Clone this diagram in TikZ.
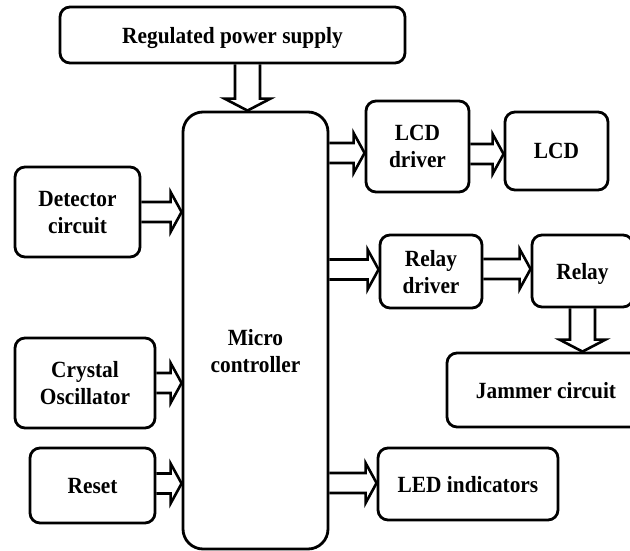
\documentclass[tikz,border=0pt]{standalone}
\usepackage{fontspec}
\setmainfont[FakeStretch=0.92]{Liberation Serif}
\usetikzlibrary{calc}
\begin{document}
\begin{tikzpicture}[x=1pt,y=-1pt,
  txt/.style={align=center, font=\fontsize{23.2}{27}\selectfont\bfseries, inner sep=0pt, text depth=0pt},
  box/.style={txt, draw, line width=2.8pt, rounded corners=10pt},
  harr/.style={draw, line width=2.6pt, line join=miter,
    to path={let \p1=(\tikztostart), \p2=(\tikztotarget) in
      (\x1,\y1+10pt) -- (\x2-11pt,\y1+10pt) -- (\x2-11pt,\y1+20pt) -- (\x2,\y1)
      -- (\x2-11pt,\y1-20pt) -- (\x2-11pt,\y1-10pt) -- (\x1,\y1-10pt)}},
  varr/.style={draw, line width=2.6pt, line join=miter,
    to path={let \p1=(\tikztostart), \p2=(\tikztotarget) in
      (\x1-12.5pt,\y1) -- (\x1-12.5pt,\y2+12pt) -- (\x1-23pt,\y2+12pt) -- (\x1,\y2)
      -- (\x1+23pt,\y2+12pt) -- (\x1+12.5pt,\y2+12pt) -- (\x1+12.5pt,\y1)}}
]
\useasboundingbox (0,0) rectangle (630,551);
\clip (0,0) rectangle (630,551);

\node[box, minimum width=345pt, minimum height=56pt] (rps) at (232.5,35) {Regulated power supply};
\node[box, rounded corners=20pt, minimum width=145pt, minimum height=437pt] (mc) at (255.5,330.5) {};
\node[txt] (mctext) at (255.5,351) {Micro\\controller};
\node[box, minimum width=103pt, minimum height=91pt] (lcdd) at (417.5,146.5) {LCD\\driver};
\node[box, minimum width=103pt, minimum height=78pt] (lcd) at (556.5,151) {LCD};
\node[box, minimum width=125pt, minimum height=90pt] (det) at (77.5,212) {Detector\\circuit};
\node[box, minimum width=102pt, minimum height=73pt] (rd) at (431,271.5) {Relay\\driver};
\node[box, minimum width=101pt, minimum height=72pt] (relay) at (582.5,271) {Relay};
\node[box, minimum width=198pt, minimum height=74pt] (jam) at (546,390) {Jammer circuit};
\node[box, minimum width=140pt, minimum height=90pt] (cry) at (85,383) {Crystal\\Oscillator};
\node[box, minimum width=125pt, minimum height=75pt] (rst) at (92.5,485.5) {Reset};
\node[box, minimum width=180pt, minimum height=72pt] (led) at (468,484) {LED indicators};

\draw[varr] ($(rps.south)+(15,0)$) to (mc.north);
\draw[varr] (relay.south) to (jam.north);
\draw[harr] (det.east) to (mc.west);
\draw[harr] (cry.east) to (mc.west);
\draw[harr] ($(rst.east)+(0,-2)$) to (mc.west);
\draw[harr] ($(mc.east |- lcdd.west)+(0,6.5)$) to (lcdd.west);
\draw[harr] ($(lcdd.east)+(0,7.5)$) to (lcd.west);
\draw[harr] ($(mc.east |- rd.west)+(0,-2)$) to (rd.west);
\draw[harr] ($(rd.east)+(0,-2.5)$) to (relay.west);
\draw[harr] ($(mc.east |- led.west)+(0,-1)$) to (led.west);
\end{tikzpicture}
\end{document}
